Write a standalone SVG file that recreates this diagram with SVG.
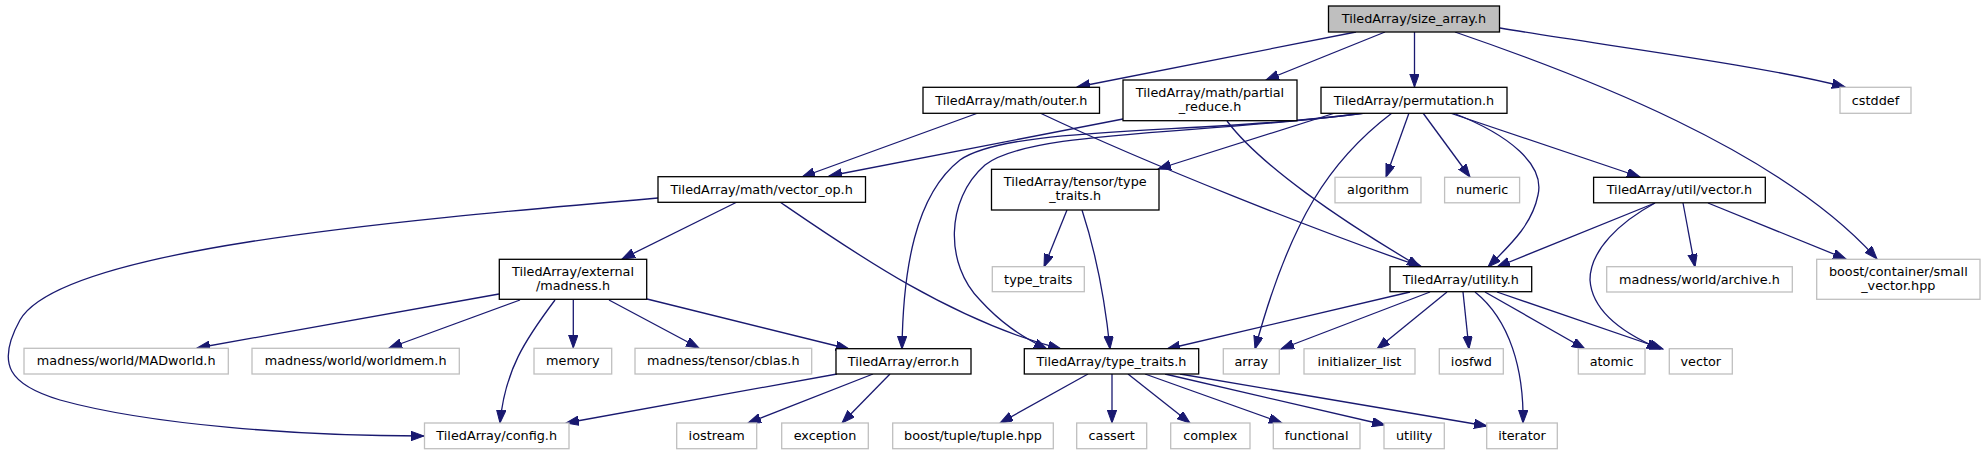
<svg xmlns="http://www.w3.org/2000/svg" width="1985" height="455" viewBox="0 0 1985 455">
<style>
text{font-family:"DejaVu Sans","Liberation Sans",sans-serif;font-size:12.8px;fill:#000;text-anchor:middle}
.n rect{fill:#fff;stroke:#000;stroke-width:1.3}
.x rect{fill:#fff;stroke:#bfbfbf;stroke-width:1.3}
.root rect{fill:#bfbfbf;stroke:#000;stroke-width:1.3}
#edges path{fill:none;stroke:#191970;stroke-width:1.3;marker-end:url(#ah)}
</style>
<defs>
<marker id="ah" markerUnits="userSpaceOnUse" markerWidth="14" markerHeight="10" refX="13" refY="4.7" orient="auto">
<path d="M0,0 L13,4.7 L0,9.4 z" fill="#191970" stroke="#191970" stroke-width="1"/>
</marker>
</defs>
<rect width="1985" height="455" fill="#fff"/>
<g id="edges">
<path d="M1356,32 L1077,87"/>
<path d="M1385,32 L1266,80"/>
<path d="M1414.5,32 L1414.5,87"/>
<path d="M1455,32 C1580,75 1780,150 1877,259"/>
<path d="M1500,28 C1600,45 1760,65 1845,87"/>
<path d="M978,113 L802,177"/>
<path d="M1040,113 C1150,165 1320,232 1422,267"/>
<path d="M1123,119 L829,176"/>
<path d="M1227,121 C1260,165 1340,220 1420,267"/>
<path d="M658,198 C380,222 60,250 20,320 C-5,365 10,385 60,400 C150,425 300,436 424,436"/>
<path d="M737,202 L622,259"/>
<path d="M780,202 C850,250 950,320 1061,349"/>
<path d="M499,294 L197,348"/>
<path d="M520,300 L389,348"/>
<path d="M555,300 C525,340 505,370 500,423"/>
<path d="M573.3,300 L573.3,348"/>
<path d="M609,300 L699,348"/>
<path d="M647,299 L849,349"/>
<path d="M837,374 L566,423"/>
<path d="M873,374 L748,423"/>
<path d="M890,374 L842,423"/>
<path d="M1365,113 C1200,135 1010,125 960,160 C915,195 903,270 902,349"/>
<path d="M1365,113 C1200,135 1030,130 985,165 C945,200 945,265 980,300 C1000,322 1020,336 1047,349"/>
<path d="M1335,113 L1158,169"/>
<path d="M1392,113 C1330,160 1290,220 1255,349"/>
<path d="M1409,113 L1386,177"/>
<path d="M1423,113 L1470,177"/>
<path d="M1450,113 L1640,177"/>
<path d="M1453,113 C1510,135 1545,165 1538,195 C1532,225 1510,245 1488,267"/>
<path d="M1067,210 L1044,267"/>
<path d="M1082,210 C1095,250 1105,300 1110,349"/>
<path d="M1655,203 L1497,267"/>
<path d="M1683,203 L1695,267"/>
<path d="M1708,203 L1846,259"/>
<path d="M1655,203 C1620,222 1590,250 1590,280 C1592,310 1620,332 1660,349"/>
<path d="M1410,292 L1167,349"/>
<path d="M1430,292 L1281,349"/>
<path d="M1447,292 L1377,349"/>
<path d="M1463,292 L1469,349"/>
<path d="M1475,292 C1510,320 1524,370 1523,423"/>
<path d="M1485,292 L1585,349"/>
<path d="M1497,292 L1663,349"/>
<path d="M1088,374 L1000,423"/>
<path d="M1112,374 L1112,423"/>
<path d="M1128,374 L1190,423"/>
<path d="M1145,374 L1282,423"/>
<path d="M1165,374 L1385,425"/>
<path d="M1180,374 L1487,426"/>
</g>
<g id="size_array" class="root"><rect x="1328.5" y="6" width="171" height="26"/><text x="1414" y="23.3">TiledArray/size_array.h</text></g>
<g id="outer" class="n"><rect x="923" y="87.3" width="176.5" height="26"/><text x="1011.3" y="104.6">TiledArray/math/outer.h</text></g>
<g id="partial_reduce" class="n"><rect x="1123" y="80" width="174" height="40.7"/><text x="1210" y="96.5">TiledArray/math/partial</text><text x="1210" y="110.8">_reduce.h</text></g>
<g id="permutation" class="n"><rect x="1321" y="87.3" width="186" height="26"/><text x="1414" y="104.6">TiledArray/permutation.h</text></g>
<g id="cstddef" class="x"><rect x="1840" y="87.3" width="71" height="26"/><text x="1875.5" y="104.6">cstddef</text></g>
<g id="vector_op" class="n"><rect x="658" y="176.7" width="207.5" height="25.6"/><text x="761.7" y="193.8">TiledArray/math/vector_op.h</text></g>
<g id="tensor_type_traits" class="n"><rect x="991.5" y="169.3" width="167.5" height="40.7"/><text x="1075.2" y="185.8">TiledArray/tensor/type</text><text x="1075.2" y="200.1">_traits.h</text></g>
<g id="algorithm" class="x"><rect x="1335" y="177.3" width="86" height="25.5"/><text x="1378" y="194.4">algorithm</text></g>
<g id="numeric" class="x"><rect x="1444.6" y="177.3" width="75" height="25.5"/><text x="1482.1" y="194.4">numeric</text></g>
<g id="util_vector" class="n"><rect x="1593.6" y="177.3" width="171.7" height="25.5"/><text x="1679.4" y="194.4">TiledArray/util/vector.h</text></g>
<g id="madness" class="n"><rect x="499.3" y="259.3" width="147.4" height="40"/><text x="573" y="275.5">TiledArray/external</text><text x="573" y="289.8">/madness.h</text></g>
<g id="type_traits_std" class="x"><rect x="992.3" y="266.7" width="92" height="25"/><text x="1038.3" y="283.5">type_traits</text></g>
<g id="utility_h" class="n"><rect x="1390" y="266.7" width="141.7" height="25"/><text x="1460.8" y="283.5">TiledArray/utility.h</text></g>
<g id="archive" class="x"><rect x="1606.7" y="266.7" width="185.6" height="25.3"/><text x="1699.5" y="283.6">madness/world/archive.h</text></g>
<g id="small_vector" class="x"><rect x="1816.7" y="259.3" width="163.3" height="40"/><text x="1898.3" y="275.5">boost/container/small</text><text x="1898.3" y="289.8">_vector.hpp</text></g>
<g id="madworld" class="x"><rect x="24" y="348.3" width="204.3" height="25.7"/><text x="126.2" y="365.4">madness/world/MADworld.h</text></g>
<g id="worldmem" class="x"><rect x="252" y="348.3" width="207.3" height="25.7"/><text x="355.6" y="365.4">madness/world/worldmem.h</text></g>
<g id="memory" class="x"><rect x="534" y="348.3" width="77.7" height="25.7"/><text x="572.8" y="365.4">memory</text></g>
<g id="cblas" class="x"><rect x="635" y="348.3" width="176.7" height="25.7"/><text x="723.3" y="365.4">madness/tensor/cblas.h</text></g>
<g id="error" class="n"><rect x="836" y="348.7" width="135" height="25.3"/><text x="903.5" y="365.6">TiledArray/error.h</text></g>
<g id="type_traits_h" class="n"><rect x="1024.3" y="348.7" width="174.4" height="25.3"/><text x="1111.5" y="365.6">TiledArray/type_traits.h</text></g>
<g id="array" class="x"><rect x="1223.3" y="348.7" width="56" height="25.3"/><text x="1251.3" y="365.6">array</text></g>
<g id="initializer_list" class="x"><rect x="1304" y="348.7" width="111" height="25.3"/><text x="1359.5" y="365.6">initializer_list</text></g>
<g id="iosfwd" class="x"><rect x="1439.3" y="348.7" width="64" height="25.3"/><text x="1471.3" y="365.6">iosfwd</text></g>
<g id="atomic" class="x"><rect x="1578.3" y="348.7" width="66.7" height="25.3"/><text x="1611.6" y="365.6">atomic</text></g>
<g id="vector" class="x"><rect x="1669.3" y="348.7" width="63" height="25.3"/><text x="1700.8" y="365.6">vector</text></g>
<g id="config" class="x"><rect x="424.5" y="423" width="144.5" height="25.7"/><text x="496.7" y="440.1">TiledArray/config.h</text></g>
<g id="iostream" class="x"><rect x="676.7" y="423" width="80" height="25.7"/><text x="716.7" y="440.1">iostream</text></g>
<g id="exception" class="x"><rect x="781.7" y="423" width="86.6" height="25.7"/><text x="825" y="440.1">exception</text></g>
<g id="tuple" class="x"><rect x="892.7" y="423" width="160.6" height="25.7"/><text x="973" y="440.1">boost/tuple/tuple.hpp</text></g>
<g id="cassert" class="x"><rect x="1076.7" y="423" width="70" height="25.7"/><text x="1111.7" y="440.1">cassert</text></g>
<g id="complex" class="x"><rect x="1170.7" y="423" width="79.3" height="25.7"/><text x="1210.3" y="440.1">complex</text></g>
<g id="functional" class="x"><rect x="1273.3" y="423" width="86.7" height="25.7"/><text x="1316.7" y="440.1">functional</text></g>
<g id="utility_std" class="x"><rect x="1384" y="423" width="60.3" height="25.7"/><text x="1414.2" y="440.1">utility</text></g>
<g id="iterator" class="x"><rect x="1486.7" y="423" width="70.6" height="25.7"/><text x="1522" y="440.1">iterator</text></g>
</svg>
